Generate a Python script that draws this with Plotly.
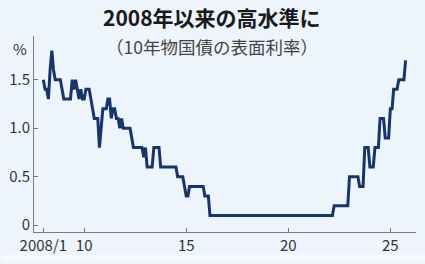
import pandas as pd
import plotly.graph_objects as go

# 10-year JGB coupon rate (%), monthly from 2008/1
start_month = "2008-01-01"
rate_2008 = [1.5, 1.4, 1.4, 1.3, 1.6, 1.8, 1.6, 1.5, 1.5, 1.5, 1.5, 1.4]
rate_2009 = [1.3, 1.3, 1.3, 1.3, 1.3, 1.5, 1.4, 1.5, 1.4, 1.3, 1.4, 1.3]
rate_2010 = [1.3, 1.4, 1.4, 1.4, 1.3, 1.2, 1.1, 1.1, 1.1, 0.8, 1.0, 1.2]
rate_2011 = [1.2, 1.2, 1.3, 1.3, 1.1, 1.2, 1.2, 1.1, 1.1, 1.0, 1.1, 1.0]
rate_2012 = [1.0, 1.0, 1.0, 1.0, 0.9, 0.8, 0.8, 0.8, 0.8, 0.8, 0.8, 0.7]
rate_2013 = [0.8, 0.6, 0.6, 0.6, 0.6, 0.8, 0.8, 0.8, 0.8, 0.6, 0.6, 0.6]
rate_2014 = [0.6, 0.6, 0.6, 0.6, 0.6, 0.6, 0.6, 0.5, 0.5, 0.5, 0.5, 0.4]
rate_2015 = [0.3, 0.3, 0.4, 0.4, 0.4, 0.4, 0.4, 0.4, 0.4, 0.4, 0.4, 0.3]
rate_2016 = [0.3, 0.3, 0.1, 0.1, 0.1, 0.1, 0.1, 0.1, 0.1, 0.1, 0.1, 0.1]
rate_2017 = [0.1, 0.1, 0.1, 0.1, 0.1, 0.1, 0.1, 0.1, 0.1, 0.1, 0.1, 0.1]
rate_2018 = [0.1, 0.1, 0.1, 0.1, 0.1, 0.1, 0.1, 0.1, 0.1, 0.1, 0.1, 0.1]
rate_2019 = [0.1, 0.1, 0.1, 0.1, 0.1, 0.1, 0.1, 0.1, 0.1, 0.1, 0.1, 0.1]
rate_2020 = [0.1, 0.1, 0.1, 0.1, 0.1, 0.1, 0.1, 0.1, 0.1, 0.1, 0.1, 0.1]
rate_2021 = [0.1, 0.1, 0.1, 0.1, 0.1, 0.1, 0.1, 0.1, 0.1, 0.1, 0.1, 0.1]
rate_2022 = [0.1, 0.1, 0.1, 0.2, 0.2, 0.2, 0.2, 0.2, 0.2, 0.2, 0.2, 0.2]
rate_2023 = [0.5, 0.5, 0.5, 0.5, 0.5, 0.5, 0.4, 0.4, 0.4, 0.8, 0.8, 0.8]
rate_2024 = [0.6, 0.6, 0.6, 0.8, 0.8, 0.8, 1.1, 1.1, 1.1, 0.9, 0.9, 0.9]
rate_2025 = [1.2, 1.2, 1.4, 1.4, 1.4, 1.5, 1.5, 1.5, 1.5, 1.7]

rates = (rate_2008 + rate_2009 + rate_2010 + rate_2011 + rate_2012 + rate_2013
         + rate_2014 + rate_2015 + rate_2016 + rate_2017 + rate_2018 + rate_2019
         + rate_2020 + rate_2021 + rate_2022 + rate_2023 + rate_2024 + rate_2025)
months = pd.date_range(start_month, periods=len(rates), freq="MS")

x_tick_vals = ["2008-01-01", "2010-01-01", "2015-01-01", "2020-01-01", "2025-01-01"]
x_tick_text = ["2008/1", "10", "15", "20", "25"]
y_tick_vals = [0, 0.5, 1.0, 1.5]
y_tick_text = ["0", "0.5", "1.0", "1.5"]

title_text = "2008年以来の高水準に"
subtitle_text = "（10年物国債の表面利率）"
unit_text = "%"

BG = "#eef4fb"
FONT = "Noto Sans CJK JP"
AXIS = "#7a7a7a"

fig = go.Figure()
fig.add_trace(go.Scatter(
    x=months, y=rates, mode="lines",
    line=dict(color="#17356b", width=3),
    hoverinfo="skip", showlegend=False,
))

fig.update_layout(
    width=425, height=264,
    margin=dict(l=33, r=9, t=36, b=30),
    paper_bgcolor=BG, plot_bgcolor=BG,
    font=dict(family=FONT, size=15, color="#333333"),
    xaxis=dict(
        type="date",
        range=["2007-07-18", "2026-04-05"],
        tickvals=x_tick_vals, ticktext=x_tick_text,
        showgrid=False, zeroline=False,
        showline=True, linecolor=AXIS, linewidth=1,
        ticks="inside", ticklen=4, tickcolor=AXIS, tickwidth=1,
        tickfont=dict(family=FONT, size=15, color="#333333"),
    ),
    yaxis=dict(
        range=[-0.07, 1.95],
        tickvals=y_tick_vals, ticktext=y_tick_text,
        showgrid=False, zeroline=False,
        showline=True, linecolor=AXIS, linewidth=1,
        ticks="inside", ticklen=4, tickcolor=AXIS, tickwidth=1,
        tickfont=dict(family=FONT, size=15, color="#333333"),
    ),
    shapes=[
        dict(type="rect", xref="paper", yref="paper", layer="below",
             x0=-33 / 383, x1=1 + 9 / 383,
             y0=(234 - 265) / 198, y1=(234 - 257) / 198,
             fillcolor="#f5f8fc", line=dict(width=0)),
    ],
    annotations=[
        dict(text="<b>" + title_text + "</b>", xref="paper", yref="paper",
             x=0.467, y=(234 - 17) / 198, xanchor="center", yanchor="middle",
             showarrow=False, font=dict(family=FONT, size=21, color="#1a1a1a")),
        dict(text=subtitle_text, xref="paper", yref="paper",
             x=0.467, y=(234 - 46.5) / 198, xanchor="center", yanchor="middle",
             showarrow=False, font=dict(family=FONT, size=17.5, color="#444444")),
        dict(text=unit_text, xref="paper", yref="paper",
             x=(28 - 33) / 383, y=(234 - 49) / 198, xanchor="right", yanchor="middle",
             showarrow=False, font=dict(family=FONT, size=15, color="#333333")),
    ],
)

fig.write_html("out.html")
